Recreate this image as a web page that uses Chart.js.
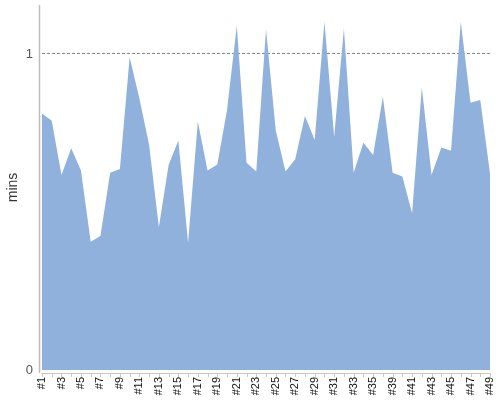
<!DOCTYPE html>
<html lang="en">
<head>
  <meta charset="UTF-8">
  <title>mins</title>
  <script src="https://cdn.jsdelivr.net/npm/chart.js"></script>
  <style>
    html, body { margin: 0; padding: 0; background: #fff; }
    .chart-container { width: 500px; height: 400px; }
  </style>
</head>
<body>
  <div class="chart-container">
    <canvas id="minsChart"></canvas>
  </div>

  <script>
    // categories (#37 / #38 are not in the data, only one of #36-#38 shows up)
    const labels = [
      '#1', '#2', '#3', '#4', '#5', '#6', '#7', '#8', '#9', '#10',
      '#11', '#12', '#13', '#14', '#15', '#16', '#17', '#18', '#19', '#20',
      '#21', '#22', '#23', '#24', '#25', '#26', '#27', '#28', '#29', '#30',
      '#31', '#32', '#33', '#34', '#35', '#36', '#39', '#40', '#41', '#42',
      '#43', '#44', '#45', '#46', '#47', '#48', '#49'
    ];

    const mins = [
      0.812, 0.789, 0.617, 0.702, 0.631, 0.406, 0.424, 0.624, 0.636, 0.990,
      0.859, 0.712, 0.452, 0.649, 0.726, 0.403, 0.786, 0.631, 0.650, 0.823,
      1.089, 0.656, 0.628, 1.078, 0.759, 0.628, 0.667, 0.804, 0.728, 1.102,
      0.738, 1.081, 0.624, 0.719, 0.680, 0.865, 0.624, 0.612, 0.496, 0.894,
      0.617, 0.704, 0.694, 1.102, 0.846, 0.854, 0.622
    ];

    const yTicks = [0, 1];
    const yMax = 1.155;

    // axis lines sit a few px off the plot area, like the original
    const axisLines = {
      id: 'axisLines',
      afterDraw(chart) {
        const ctx = chart.ctx;
        const area = chart.chartArea;
        const xs = chart.scales.x;
        ctx.save();
        ctx.strokeStyle = '#bdbdbd';
        ctx.lineWidth = 1.5;
        ctx.beginPath();
        ctx.moveTo(area.left - 2.5, area.top);
        ctx.lineTo(area.left - 2.5, area.bottom + 3);
        ctx.stroke();

        ctx.lineWidth = 1;
        ctx.strokeStyle = '#c8c8c8';
        ctx.beginPath();
        ctx.moveTo(area.left - 1, area.bottom + 3.5);
        ctx.lineTo(area.right + 1, area.bottom + 3.5);
        for (let i = 0; i < labels.length; i++) {
          const px = Math.round(xs.getPixelForValue(i)) + 0.5;
          ctx.moveTo(px, area.bottom + 3.5);
          ctx.lineTo(px, area.bottom + 7);
        }
        ctx.stroke();
        ctx.restore();
      }
    };

    new Chart(document.getElementById('minsChart'), {
      type: 'line',
      data: {
        labels: labels,
        datasets: [{
          label: 'mins',
          data: mins,
          fill: 'origin',
          backgroundColor: 'rgb(143, 177, 219)',
          borderWidth: 0,
          borderColor: 'rgba(0,0,0,0)',
          pointRadius: 0,
          tension: 0
        }]
      },
      options: {
        responsive: true,
        maintainAspectRatio: false,
        animation: false,
        layout: { padding: { top: 5, right: 10, left: 0, bottom: 0 } },
        plugins: {
          legend: { display: false },
          tooltip: { enabled: false }
        },
        scales: {
          x: {
            offset: false,
            grid: { display: false, drawTicks: false },
            border: { display: false },
            afterFit: (scale) => {
              scale.height = 30;
              scale.paddingLeft = 0;
              scale.paddingRight = 0;
            },
            ticks: {
              autoSkip: false,
              minRotation: 90,
              maxRotation: 90,
              padding: 7,
              color: '#111',
              font: { family: 'Liberation Sans', size: 11 },
              callback: (value, index) => index % 2 === 0 ? labels[index] : ''
            }
          },
          y: {
            min: 0,
            max: yMax,
            afterBuildTicks: (scale) => {
              scale.ticks = yTicks.map(v => ({ value: v }));
            },
            afterFit: (scale) => {
              scale.width = 42;
              scale.paddingTop = 0;
              scale.paddingBottom = 0;
            },
            grid: {
              drawTicks: false,
              lineWidth: 1,
              color: (c) => c.tick && c.tick.value === 1 ? '#8a8a8a' : 'rgba(0,0,0,0)'
            },
            border: { display: false, dash: [3, 2] },
            ticks: {
              padding: 9,
              color: '#555',
              font: { family: 'Liberation Sans', size: 13 }
            },
            title: {
              display: true,
              text: 'mins',
              color: '#333',
              font: { family: 'Liberation Sans', size: 14 },
              padding: { top: 5, bottom: 4 }
            }
          }
        }
      },
      plugins: [axisLines]
    });
  </script>
</body>
</html>
